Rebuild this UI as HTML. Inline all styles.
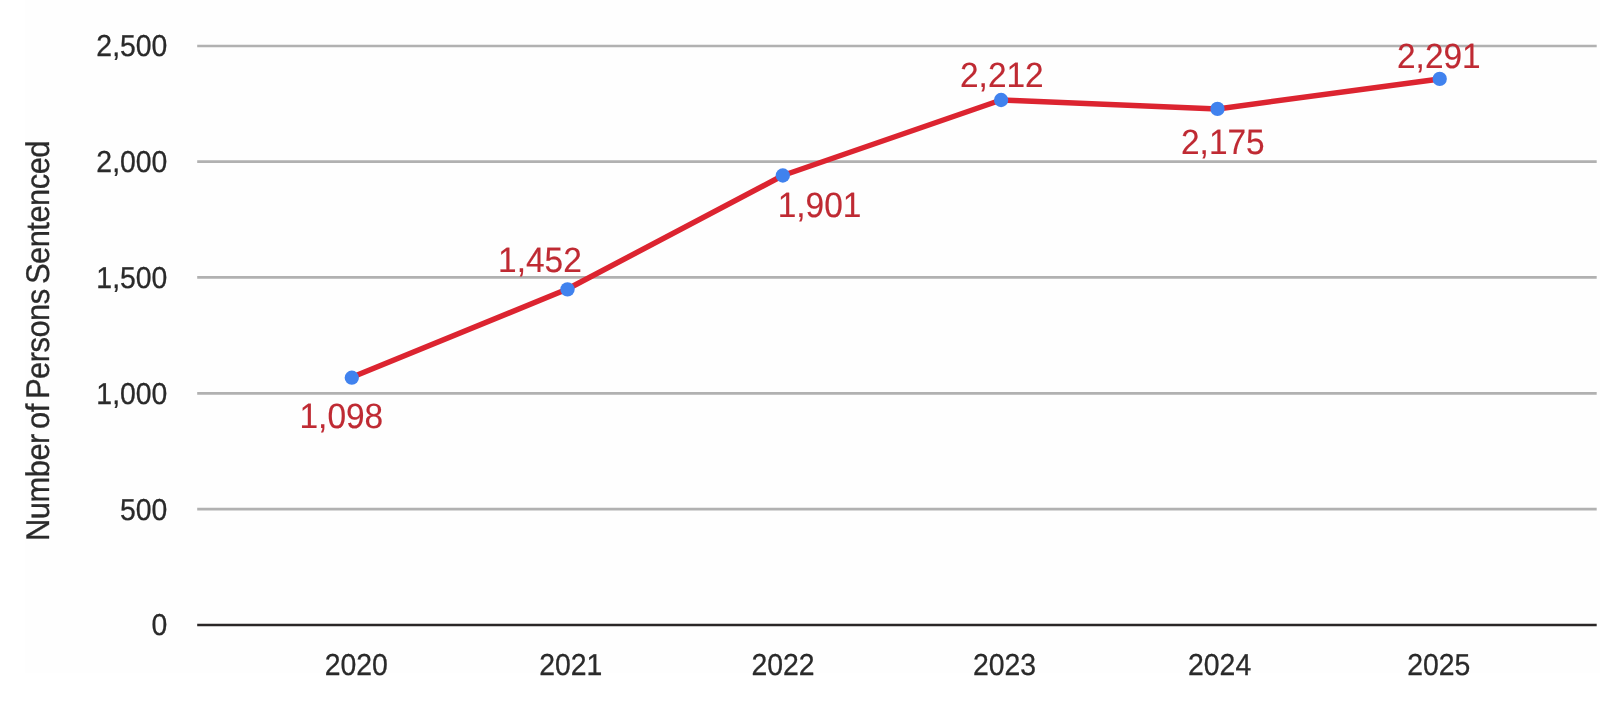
<!DOCTYPE html>
<html lang="en">
<head>
<meta charset="utf-8">
<title>Number of Persons Sentenced</title>
<style>
html,body{margin:0;padding:0;background:#ffffff;}
body{width:1600px;height:716px;overflow:hidden;}
svg{display:block;filter:blur(0.35px);}
text{font-family:"Liberation Sans",Arial,Helvetica,sans-serif;text-rendering:geometricPrecision;}
.ax{fill:#2a2a2a;stroke:#2a2a2a;stroke-width:0.3;}
.dl{fill:#bf2a33;stroke:#bf2a33;stroke-width:0.15;}
.grid line{stroke:#b1b1b1;stroke-width:2.7;}
</style>
</head>
<body>
<svg width="1600" height="716" viewBox="0 0 1600 716">
<rect x="0" y="0" width="1600" height="716" fill="#ffffff"/>
<rect x="25" y="0" width="1575" height="673" fill="#fefefe"/>
<g class="grid">
<line x1="197.2" y1="46.0" x2="1596.7" y2="46.0"/>
<line x1="197.2" y1="161.7" x2="1596.7" y2="161.7"/>
<line x1="197.2" y1="277.4" x2="1596.7" y2="277.4"/>
<line x1="197.2" y1="393.3" x2="1596.7" y2="393.3"/>
<line x1="197.2" y1="509.1" x2="1596.7" y2="509.1"/>
</g>
<line x1="197.2" y1="625.0" x2="1596.7" y2="625.0" stroke="#2a2626" stroke-width="2.7"/>
<text class="ax" font-size="30.3" text-anchor="end" transform="translate(167.4 56.1) scale(0.937 1)">2,500</text>
<text class="ax" font-size="30.3" text-anchor="end" transform="translate(167.4 171.9) scale(0.937 1)">2,000</text>
<text class="ax" font-size="30.3" text-anchor="end" transform="translate(167.4 287.8) scale(0.937 1)">1,500</text>
<text class="ax" font-size="30.3" text-anchor="end" transform="translate(167.4 403.6) scale(0.937 1)">1,000</text>
<text class="ax" font-size="30.3" text-anchor="end" transform="translate(167.4 519.5) scale(0.937 1)">500</text>
<text class="ax" font-size="30.3" text-anchor="end" transform="translate(167.4 635.3) scale(0.937 1)">0</text>
<text class="ax" font-size="30.3" text-anchor="middle" transform="translate(356.3 674.9) scale(0.937 1)">2020</text>
<text class="ax" font-size="30.3" text-anchor="middle" transform="translate(570.8 674.9) scale(0.937 1)">2021</text>
<text class="ax" font-size="30.3" text-anchor="middle" transform="translate(783.0 674.9) scale(0.937 1)">2022</text>
<text class="ax" font-size="30.3" text-anchor="middle" transform="translate(1004.5 674.9) scale(0.937 1)">2023</text>
<text class="ax" font-size="30.3" text-anchor="middle" transform="translate(1219.6 674.9) scale(0.937 1)">2024</text>
<text class="ax" font-size="30.3" text-anchor="middle" transform="translate(1438.8 674.9) scale(0.937 1)">2025</text>
<text class="ax" font-size="32.8" text-anchor="middle" letter-spacing="-0.6" word-spacing="-3" transform="translate(48.7 341.0) rotate(-90) scale(0.945 1)">Number of Persons Sentenced</text>
<polyline fill="none" stroke="#dc2430" stroke-width="5.5" stroke-linejoin="round" stroke-linecap="round" points="351.8,377.3 567.5,289.0 782.8,175.5 1001.1,100.0 1217.5,108.9 1439.7,78.9"/>
<g fill="#4082ee">
<circle cx="351.8" cy="377.7" r="7.15"/>
<circle cx="567.5" cy="289.4" r="7.15"/>
<circle cx="782.8" cy="175.5" r="7.15"/>
<circle cx="1001.1" cy="100.0" r="7.15"/>
<circle cx="1217.5" cy="108.9" r="7.15"/>
<circle cx="1439.7" cy="78.9" r="7.15"/>
</g>
<text class="dl" font-size="35.1" text-anchor="start" transform="translate(299.5 428.2) scale(0.953 1)">1,098</text>
<text class="dl" font-size="35.1" text-anchor="start" transform="translate(498.1 272.2) scale(0.953 1)">1,452</text>
<text class="dl" font-size="35.1" text-anchor="start" transform="translate(777.7 217.1) scale(0.953 1)">1,901</text>
<text class="dl" font-size="35.1" text-anchor="start" transform="translate(960.0 87.2) scale(0.953 1)">2,212</text>
<text class="dl" font-size="35.1" text-anchor="start" transform="translate(1181.0 153.8) scale(0.953 1)">2,175</text>
<text class="dl" font-size="35.1" text-anchor="start" transform="translate(1397.0 67.5) scale(0.953 1)">2,291</text>
</svg>
</body>
</html>
